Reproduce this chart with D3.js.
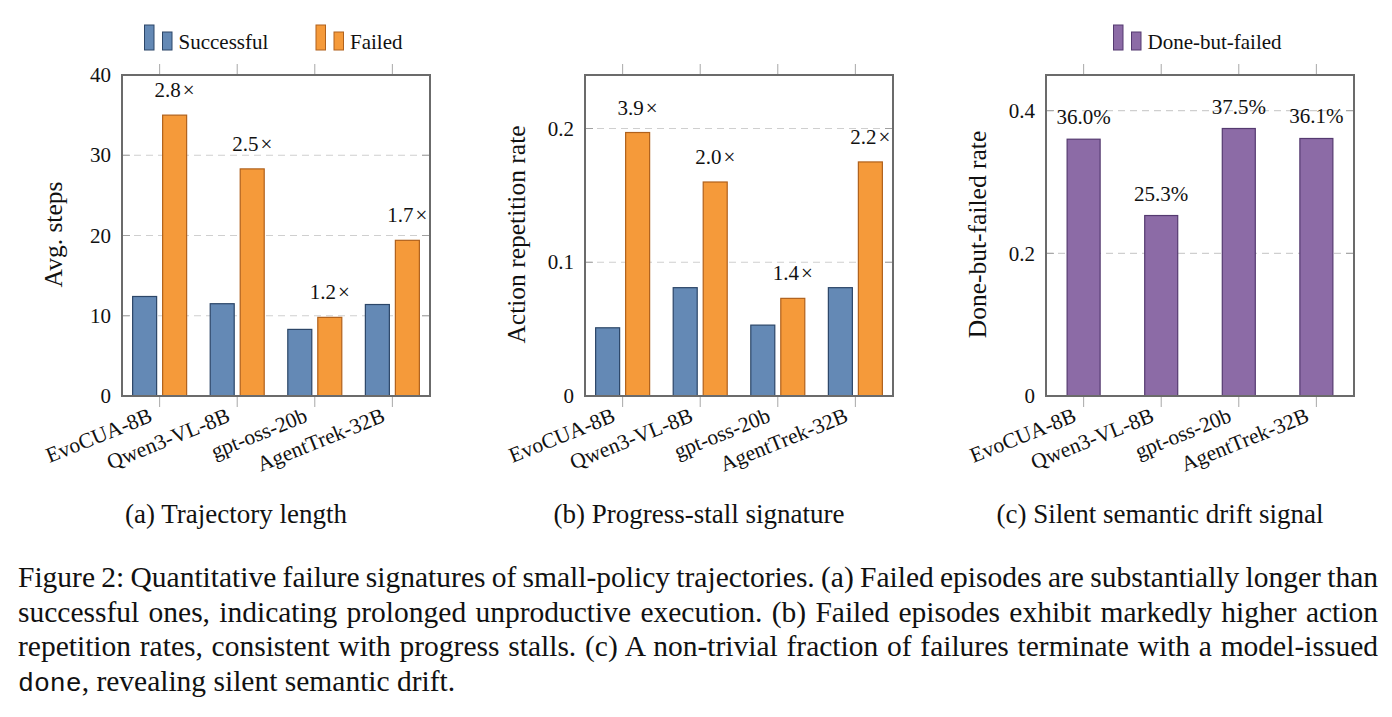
<!DOCTYPE html>
<html>
<head>
<meta charset="utf-8">
<script src="https://cdn.jsdelivr.net/npm/d3@7"></script>
<style>
  html, body { margin: 0; padding: 0; background: #fff; }
  svg { display: block; }
</style>
</head>
<body>
<svg id="chart" width="1392" height="717"></svg>
<script>
// ---------------- data ----------------
const categories = ["EvoCUA-8B", "Qwen3-VL-8B", "gpt-oss-20b", "AgentTrek-32B"];

const stepsSuccessful = [12.4, 11.5, 8.3, 11.4];
const stepsFailed     = [35.0, 28.3, 9.8, 19.4];
const stepsRatioLabels = ["2.8×", "2.5×", "1.2×", "1.7×"];
const stepsTicks = [0, 10, 20, 30, 40];

const repSuccessful = [0.051, 0.081, 0.053, 0.081];
const repFailed     = [0.197, 0.160, 0.073, 0.175];
const repRatioLabels = ["3.9×", "2.0×", "1.4×", "2.2×"];
const repTicks = [0, 0.1, 0.2];

const doneFailedRate = [0.360, 0.253, 0.375, 0.361];
const doneLabels = ["36.0%", "25.3%", "37.5%", "36.1%"];
const doneTicks = [0, 0.2, 0.4];

const legendNames = ["Successful", "Failed"];
const legendSingle = "Done-but-failed";

const subcaptions = ["(a) Trajectory length", "(b) Progress-stall signature", "(c) Silent semantic drift signal"];
const yTitles = ["Avg. steps", "Action repetition rate", "Done-but-failed rate"];

const captionLines = [
  "Figure 2: Quantitative failure signatures of small-policy trajectories. (a) Failed episodes are substantially longer than",
  "successful ones, indicating prolonged unproductive execution. (b) Failed episodes exhibit markedly higher action",
  "repetition rates, consistent with progress stalls. (c) A non-trivial fraction of failures terminate with a model-issued"
];
const captionLastMono = "done";
const captionLastRest = ", revealing silent semantic drift.";

// ---------------- styles ----------------
const SERIF = "'Liberation Serif', 'Times New Roman', serif";
const MONO = "'Liberation Mono', 'DejaVu Sans Mono', monospace";
const COLORS = {
  blue:   { fill: "#6489b5", stroke: "#2c4668" },
  orange: { fill: "#f59a3a", stroke: "#b0611c" },
  purple: { fill: "#8c6ba6", stroke: "#553a70" }
};
const FRAME = "#6b6b6b";

const svg = d3.select("#chart");

const TOP = 75, BOTTOM = 396, PW = 308;
const panelLefts = [122, 585, 1046];

function addLabelText(sel) {
  // splits a trailing "×" so it can be set slightly apart like math \times
  sel.each(function(d) {
    const t = d3.select(this);
    if (d.endsWith("×")) {
      t.append("tspan").text(d.slice(0, -1));
      t.append("tspan").attr("dx", 2).text("×");
    } else {
      t.text(d);
    }
  });
}

function drawPanel(idx, yMax, ticks, tickFmt, series, labels, labelOffset) {
  const left = panelLefts[idx], right = left + PW;
  const g = svg.append("g");
  const x = d3.scaleLinear().domain([-0.485, 3.485]).range([left, right]);
  const y = d3.scaleLinear().domain([0, yMax]).range([BOTTOM, TOP]);

  // grid lines (dashed) for non-zero ticks
  g.selectAll("line.grid").data(ticks.filter(t => t > 0)).enter().append("line")
    .attr("x1", left).attr("x2", right)
    .attr("y1", d => y(d)).attr("y2", d => y(d))
    .attr("stroke", "#cfcfcf").attr("stroke-width", 1.2)
    .attr("stroke-dasharray", "7,5");
  // inner y ticks on both sides
  ticks.filter(t => t > 0).forEach(t => {
    g.append("line").attr("x1", left).attr("x2", left + 8).attr("y1", y(t)).attr("y2", y(t))
      .attr("stroke", "#a0a0a0").attr("stroke-width", 1);
    g.append("line").attr("x1", right - 8).attr("x2", right).attr("y1", y(t)).attr("y2", y(t))
      .attr("stroke", "#a0a0a0").attr("stroke-width", 1);
  });

  // y tick labels via d3 axis
  const yAxis = d3.axisLeft(y).tickValues(ticks).tickFormat(tickFmt).tickSize(0).tickPadding(11);
  const ya = g.append("g").attr("transform", `translate(${left},0)`).call(yAxis);
  ya.select(".domain").remove();
  ya.selectAll("text").attr("font-family", SERIF).attr("font-size", 21).attr("fill", "#111");

  // x ticks outward top & bottom
  categories.forEach((c, i) => {
    g.append("line").attr("x1", x(i)).attr("x2", x(i)).attr("y1", TOP - 11).attr("y2", TOP)
      .attr("stroke", "#a8a8a8").attr("stroke-width", 1);
    g.append("line").attr("x1", x(i)).attr("x2", x(i)).attr("y1", BOTTOM).attr("y2", BOTTOM + 11)
      .attr("stroke", "#a8a8a8").attr("stroke-width", 1);
  });

  // bars
  series.forEach(s => {
    g.selectAll(null).data(s.values).enter().append("rect")
      .attr("x", (d, i) => x(i) + s.offset - s.width / 2)
      .attr("width", s.width)
      .attr("y", d => y(d))
      .attr("height", d => BOTTOM - y(d))
      .attr("fill", s.color.fill)
      .attr("stroke", s.color.stroke)
      .attr("stroke-width", 1.2);
  });

  // value labels
  const ls = series[labels.seriesIndex];
  g.selectAll(null).data(labels.texts).enter().append("text")
    .attr("x", (d, i) => x(i) + ls.offset)
    .attr("y", (d, i) => y(ls.values[i]) - labelOffset)
    .attr("text-anchor", "middle")
    .attr("font-family", SERIF).attr("font-size", 21).attr("fill", "#111")
    .call(addLabelText);

  // frame
  g.append("rect").attr("x", left).attr("y", TOP).attr("width", PW).attr("height", BOTTOM - TOP)
    .attr("fill", "none").attr("stroke", FRAME).attr("stroke-width", 2);

  // category labels
  g.selectAll(null).data(categories).enter().append("text")
    .attr("transform", (d, i) => `translate(${x(i) - 6},${BOTTOM + 25}) rotate(-22)`)
    .attr("text-anchor", "end")
    .attr("font-family", SERIF).attr("font-size", 21.5).attr("fill", "#111")
    .text(d => d);

  // y title
  g.append("text")
    .attr("transform", `translate(${left - 60},${(TOP + BOTTOM) / 2 - 1}) rotate(-90)`)
    .attr("text-anchor", "middle")
    .attr("font-family", SERIF).attr("font-size", 25.5).attr("fill", "#111")
    .text(yTitles[idx]);

  // subcaption
  g.append("text")
    .attr("x", (left + right) / 2 - 40).attr("y", 523)
    .attr("text-anchor", "middle")
    .attr("font-family", SERIF).attr("font-size", 27).attr("fill", "#111")
    .text(subcaptions[idx]);
}

drawPanel(0, 40, stepsTicks, d => d3.format("d")(d),
  [{ values: stepsSuccessful, offset: -15, width: 24, color: COLORS.blue },
   { values: stepsFailed, offset: 15, width: 24, color: COLORS.orange }],
  { seriesIndex: 1, texts: stepsRatioLabels }, 18);

drawPanel(1, 0.24, repTicks, d => d === 0 ? "0" : d3.format(".1f")(d),
  [{ values: repSuccessful, offset: -15, width: 24, color: COLORS.blue },
   { values: repFailed, offset: 15, width: 24, color: COLORS.orange }],
  { seriesIndex: 1, texts: repRatioLabels }, 18);

drawPanel(2, 0.45, doneTicks, d => d === 0 ? "0" : d3.format(".1f")(d),
  [{ values: doneFailedRate, offset: 0, width: 33, color: COLORS.purple }],
  { seriesIndex: 0, texts: doneLabels }, 15);

// ---------------- legends ----------------
function legendItem(x0, color, label) {
  const g = svg.append("g");
  g.append("rect").attr("x", x0).attr("y", 25).attr("width", 9.5).attr("height", 25)
    .attr("fill", color.fill).attr("stroke", color.stroke).attr("stroke-width", 1);
  g.append("rect").attr("x", x0 + 18).attr("y", 32).attr("width", 9.5).attr("height", 18)
    .attr("fill", color.fill).attr("stroke", color.stroke).attr("stroke-width", 1);
  g.append("text").attr("x", x0 + 34).attr("y", 48.5)
    .attr("font-family", SERIF).attr("font-size", 21).attr("fill", "#111").text(label);
}
legendItem(144.5, COLORS.blue, legendNames[0]);
legendItem(316, COLORS.orange, legendNames[1]);
legendItem(1113.5, COLORS.purple, legendSingle);

// ---------------- caption (justified via word spacing) ----------------
const capX = 18, capRight = 1378, capY0 = 587, capDY = 34.5, capSize = 29.5;
captionLines.forEach((line, i) => {
  const t = svg.append("text")
    .attr("x", capX).attr("y", capY0 + i * capDY)
    .attr("font-family", SERIF).attr("font-size", capSize).attr("fill", "#111")
    .text(line);
  const natural = t.node().getComputedTextLength();
  const spaces = (line.match(/ /g) || []).length;
  const ws = (capRight - capX - natural) / spaces;
  t.attr("word-spacing", ws);
});
const last = svg.append("text")
  .attr("x", capX).attr("y", capY0 + 3 * capDY)
  .attr("font-size", capSize).attr("fill", "#111");
last.append("tspan").attr("font-family", MONO).attr("font-size", 26.5).text(captionLastMono);
last.append("tspan").attr("font-family", SERIF).text(captionLastRest);
</script>
</body>
</html>
